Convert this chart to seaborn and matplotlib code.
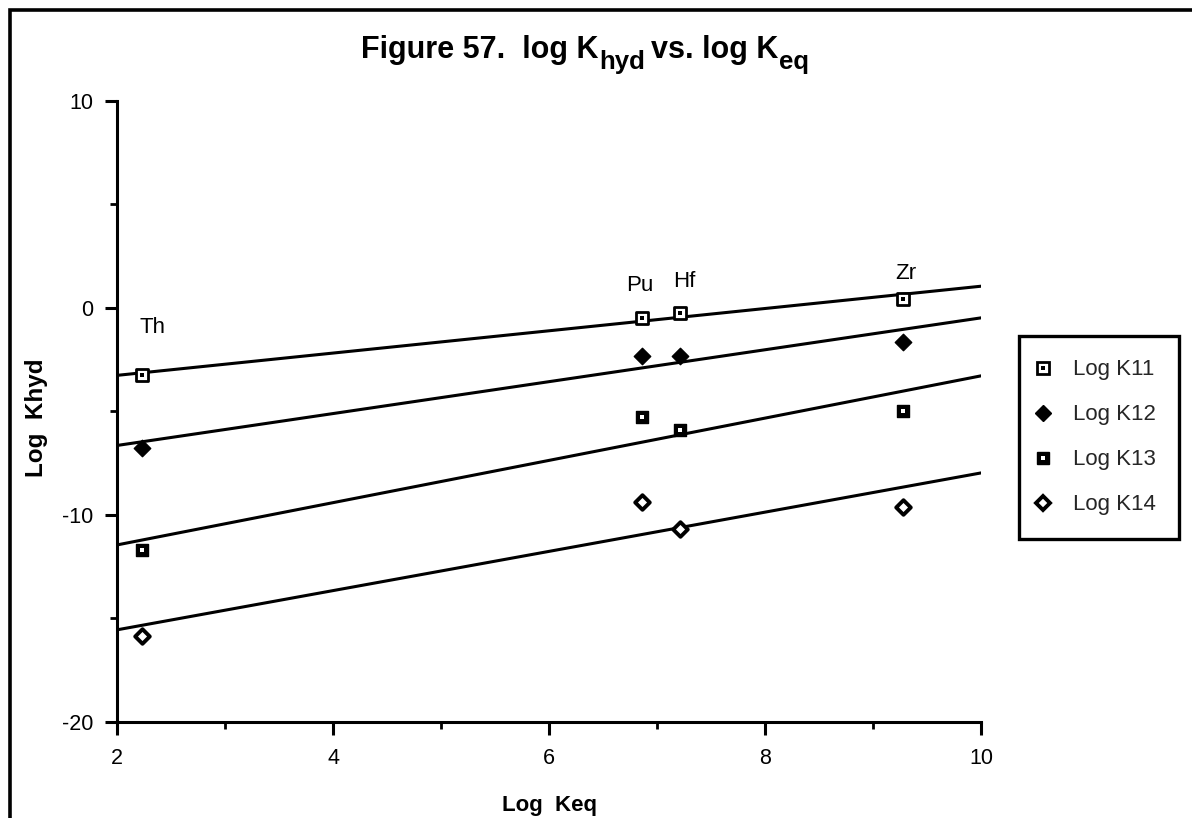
import matplotlib
matplotlib.use("Agg")
import matplotlib.pyplot as plt
from matplotlib.lines import Line2D
from matplotlib.patches import Rectangle
from matplotlib.legend_handler import HandlerTuple
from matplotlib.ticker import MultipleLocator
import seaborn as sns

# ---- data ----
elements = ["Th", "Pu", "Hf", "Zr"]
log_keq = [2.23, 6.86, 7.21, 9.28]
log_k11 = [-3.25, -0.51, -0.24, 0.41]
log_k12 = [-6.76, -2.33, -2.32, -1.64]
log_k13 = [-11.70, -5.27, -5.91, -4.98]
log_k14 = [-15.85, -9.40, -10.66, -9.64]
series_names = ["Log K11", "Log K12", "Log K13", "Log K14"]
# element label anchor positions (data coords)
label_x = [2.33, 6.84, 7.25, 9.30]
label_y = [-0.93, 1.10, 1.28, 1.67]

sns.set_theme(style="ticks")
plt.rcParams["font.family"] = ["Liberation Sans", "DejaVu Sans"]
plt.rcParams["axes.unicode_minus"] = False

W, H = 1192, 818
fig = plt.figure(figsize=(W / 100, H / 100), dpi=100)
fig.patch.set_facecolor("white")
ax = fig.add_axes([117 / W, 1 - 722 / H, (981 - 117) / W, (722 - 100.7) / H])
ax.set_facecolor("white")
ax.set_xlim(2, 10)
ax.set_ylim(-20, 10)

# outer figure frame (left and top visible)
fig.add_artist(Rectangle((10 / W, -0.5), 2, 1.5 - 10 / H, transform=fig.transFigure,
                         fill=False, edgecolor="black", linewidth=2.6, clip_on=False))

styles = [
    dict(marker="s", face="white", edge="black", dot="black"),
    dict(marker="D", face="black", edge="black", dot=None),
    dict(marker="s", face="black", edge="black", dot="white"),
    dict(marker="D", face="white", edge="black", dot=None),
]
sizes = [75, 70, 80, 55]
edgew = [2.0, 1.0, 1.0, 2.8]

all_series = [log_k11, log_k12, log_k13, log_k14]
handles = []
for vals, st, s, ew, name in zip(all_series, styles, sizes, edgew, series_names):
    sns.regplot(x=log_keq, y=vals, ax=ax, ci=None, truncate=False, scatter=False,
                line_kws=dict(color="black", lw=2.2, zorder=2))
    sns.scatterplot(x=log_keq, y=vals, ax=ax, marker=st["marker"], s=s,
                    color=st["face"], edgecolor=st["edge"], linewidth=ew, zorder=4,
                    legend=False)
    h_main = Line2D([], [], ls="none", marker=st["marker"], markersize=s ** 0.5,
                    markerfacecolor=st["face"], markeredgecolor=st["edge"], markeredgewidth=ew)
    if st["dot"] is not None:
        sns.scatterplot(x=log_keq, y=vals, ax=ax, marker="s", s=5, color=st["dot"],
                        linewidth=0, zorder=5, legend=False)
        h_dot = Line2D([], [], ls="none", marker="s", markersize=2.2,
                       markerfacecolor=st["dot"], markeredgewidth=0)
        handles.append((h_main, h_dot))
    else:
        handles.append((h_main,))

for name, x, y in zip(elements, label_x, label_y):
    ax.text(x, y, name, ha="center", va="center", fontsize=16, color="black")

# axes styling
for side in ["top", "right"]:
    ax.spines[side].set_visible(False)
for side in ["left", "bottom"]:
    ax.spines[side].set_linewidth(2.2)
    ax.spines[side].set_color("black")
ax.xaxis.set_major_locator(MultipleLocator(2))
ax.xaxis.set_minor_locator(MultipleLocator(1))
ax.yaxis.set_major_locator(MultipleLocator(10))
ax.yaxis.set_minor_locator(MultipleLocator(5))
ax.tick_params(which="major", direction="out", length=9, width=2.2, color="black",
               labelsize=15.5, labelcolor="black")
ax.tick_params(which="minor", direction="out", length=5, width=2.0, color="black")
ax.tick_params(axis="y", which="major", pad=8)
ax.tick_params(axis="x", which="major", pad=10)
ax.grid(False)

ax.set_xlabel("Log  Keq", fontsize=16, fontweight="bold", color="black")
ax.set_ylabel("Log  Khyd", fontsize=17.5, fontweight="bold", color="black")
ax.xaxis.set_label_coords(0.5, -0.117)
ax.yaxis.set_label_coords(-0.080, 0.49)

# title: main text with smaller, lowered subscripts, laid out piece by piece
title_parts = [("Figure 57.  log K", 0, 22), ("hyd", 1, 18.5),
               ("vs. log K", 0, 22), ("eq", 1, 18.5)]
gaps_after = [1, 6, 1, 0]
title_center_px = 585
title_base_px = 58
sub_drop_px = 11
fig.canvas.draw()
renderer = fig.canvas.get_renderer()
title_texts, widths = [], []
for txt, is_sub, fs in title_parts:
    t = fig.text(0, 0, txt, ha="left", va="baseline", fontsize=fs,
                 fontweight="bold", color="black")
    title_texts.append((t, is_sub))
    widths.append(t.get_window_extent(renderer).width)
total = sum(widths) + sum(gaps_after[:-1])
xpos = title_center_px - total / 2
for (t, is_sub), w, g in zip(title_texts, widths, gaps_after):
    ypx = title_base_px + (sub_drop_px if is_sub else 0)
    t.set_position((xpos / W, 1 - ypx / H))
    xpos += w + g

leg = ax.legend(handles, series_names, handler_map={tuple: HandlerTuple(ndivide=1, pad=0)},
                loc="upper left", bbox_to_anchor=(1019 / W, 1 - 336 / H),
                bbox_transform=fig.transFigure, borderaxespad=0, fontsize=16,
                frameon=True, fancybox=False, framealpha=1, edgecolor="black",
                borderpad=1.05, labelspacing=1.08, handlelength=0.1, handletextpad=1.28)
leg.get_frame().set_linewidth(2.4)

fig.savefig("out.png", dpi=100, facecolor="white")
